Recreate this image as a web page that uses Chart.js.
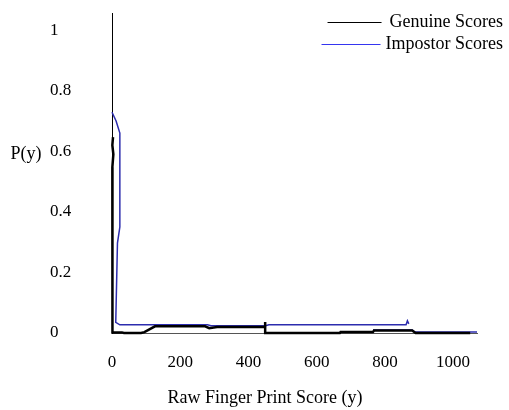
<!DOCTYPE html>
<html>

<head>
    <title>Raw Finger Print Score</title>
    <script src="https://cdn.jsdelivr.net/npm/chart.js"></script>
    <style>
        body { margin: 0; background: #fff; }
    </style>
</head>

<body>
    <canvas id="scoreChart" width="509" height="410"></canvas>

    <script>
        // series values (x = raw score, y = P(y))
        const genuineX = [3, 1, 4, 1, 0, 2, 2, 29, 35, 85, 95, 126, 273, 285, 308, 443, 449, 449, 449, 668, 670, 765, 768, 880, 890, 1050];
        const genuineY = [0.647, 0.62, 0.59, 0.547, 0.51, 0.45, 0.002, 0.002, 0, 0, 0.003, 0.022, 0.022, 0.016, 0.02, 0.02, 0.02, 0.036, 0, 0, 0.003, 0.003, 0.008, 0.008, 0, 0];

        const impostorX = [0, 12, 23, 23, 16, 11, 23, 280, 290, 450, 460, 862, 866, 870, 870, 765, 880, 888, 1070];
        const impostorY = [0.729, 0.70, 0.66, 0.35, 0.297, 0.035, 0.027, 0.027, 0.024, 0.024, 0.027, 0.027, 0.04, 0.03, null, 0.01, 0.01, 0.003, 0.003];

        const seriesNames = ['Genuine Scores', 'Impostor Scores'];
        const xTicks = [0, 200, 400, 600, 800, 1000];
        const yTicks = [0, 0.2, 0.4, 0.6, 0.8, 1];

        const FONT = 'Liberation Serif, Times New Roman, serif';

        function points(xs, ys) {
            return xs.map((x, i) => ({ x: x, y: ys[i] }));
        }

        // legend + axis captions drawn where the original has them
        const captions = {
            id: 'captions',
            afterDraw(chart) {
                const c = chart.ctx;
                const area = chart.chartArea;
                c.save();
                c.font = '18px ' + FONT;
                c.fillStyle = '#000';
                c.textBaseline = 'middle';

                // legend, top right
                const rows = [22, 44];
                const lineLen = [54, 59];
                const gap = [8, 5];
                chart.data.datasets.forEach((ds, i) => {
                    const y = rows[i];
                    const textRight = 503;
                    const w = c.measureText(ds.label).width;
                    c.textAlign = 'right';
                    c.fillText(ds.label, textRight, y);
                    c.strokeStyle = ds.legendColor;
                    c.lineWidth = 1;
                    c.beginPath();
                    c.moveTo(textRight - w - gap[i] - lineLen[i], y + 0.5);
                    c.lineTo(textRight - w - gap[i], y + 0.5);
                    c.stroke();
                });

                // y caption (horizontal)
                c.textAlign = 'center';
                c.fillText('P(y)', area.left - 86, chart.scales.y.getPixelForValue(0.59));

                // x caption
                c.fillText('Raw Finger Print Score (y)', area.left + 153, 398);
                c.restore();
            }
        };

        const ctx = document.getElementById('scoreChart').getContext('2d');
        const chart = new Chart(ctx, {
            type: 'scatter',
            data: {
                datasets: [{
                    label: seriesNames[0],
                    data: points(genuineX, genuineY),
                    borderColor: '#000',
                    legendColor: '#000',
                    borderWidth: 2.5,
                    showLine: true,
                    pointRadius: 0,
                    tension: 0,
                    clip: false
                }, {
                    label: seriesNames[1],
                    data: points(impostorX, impostorY),
                    borderColor: '#2c2cae',
                    legendColor: '#3535f0',
                    borderWidth: 1.5,
                    showLine: true,
                    spanGaps: false,
                    pointRadius: 0,
                    tension: 0,
                    clip: false
                }]
            },
            options: {
                responsive: false,
                animation: false,
                layout: { padding: { left: 50, right: 32, top: 13, bottom: 0 } },
                plugins: {
                    legend: { display: false },
                    tooltip: { enabled: false }
                },
                scales: {
                    x: {
                        type: 'linear',
                        min: 0,
                        max: 1070,
                        grid: { display: false },
                        border: { display: true, color: '#555', width: 1 },
                        afterBuildTicks: (s) => { s.ticks = xTicks.map(v => ({ value: v })); },
                        afterFit: (s) => { s.height = 77; },
                        ticks: {
                            color: '#000',
                            padding: 11,
                            maxRotation: 0,
                            font: { family: FONT, size: 17 },
                            callback: (v) => String(v)
                        }
                    },
                    y: {
                        type: 'linear',
                        min: 0,
                        max: 1.056,
                        grid: { display: false },
                        border: { display: true, color: '#000', width: 1 },
                        afterBuildTicks: (s) => { s.ticks = yTicks.map(v => ({ value: v })); },
                        afterFit: (s) => { s.width = 62; },
                        ticks: {
                            color: '#000',
                            crossAlign: 'far',
                            font: { family: FONT, size: 17 },
                            callback: (v) => String(v)
                        }
                    }
                }
            },
            plugins: [captions]
        });
    </script>
</body>

</html>
